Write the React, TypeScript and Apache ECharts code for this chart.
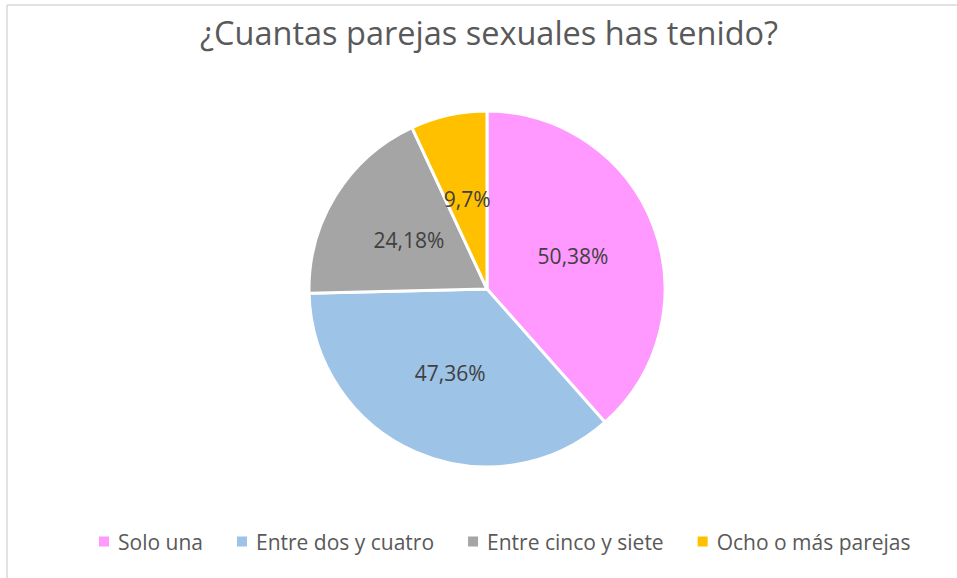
import React, { useEffect, useRef } from "react";
import * as echarts from "echarts";

const categories = ["Solo una", "Entre dos y cuatro", "Entre cinco y siete", "Ocho o más parejas"];
const counts = [50, 47, 24, 9];
const colors = ["#FF99FF", "#9DC3E6", "#A5A5A5", "#FFC000"];
const titleText = "¿Cuantas parejas sexuales has tenido?";

export default function App() {
  const ref = useRef<HTMLDivElement>(null);
  useEffect(() => {
    if (!ref.current) return;
    const chart = echarts.init(ref.current, undefined, { renderer: "svg" });
    const font = "'Open Sans', 'Noto Sans', sans-serif";
    chart.setOption({
      animation: false,
      backgroundColor: "#ffffff",
      color: colors,
      title: {
        text: titleText,
        left: 195,
        top: 11,
        textStyle: { color: "#595959", fontSize: 32.5, fontWeight: "normal", fontFamily: font },
      },
      legend: {
        bottom: 21,
        left: 92,
        itemWidth: 12,
        itemHeight: 12,
        itemGap: 32,
        icon: "rect",
        textStyle: { color: "#595959", fontSize: 21, fontFamily: font, padding: [0, 0, 0, 3] },
        data: categories,
      },
      graphic: [
        { type: "line", shape: { x1: 7, y1: 5, x2: 957, y2: 5 }, style: { stroke: "#D9D9D9", lineWidth: 1.5 } },
        { type: "line", shape: { x1: 7, y1: 5, x2: 7, y2: 578 }, style: { stroke: "#D9D9D9", lineWidth: 1.5 } },
      ],
      series: [
        {
          type: "pie",
          center: [487, 289],
          radius: [0, 178],
          startAngle: 90,
          clockwise: true,
          data: categories.map((name, i) => ({ name, value: counts[i] })),
          itemStyle: { borderColor: "#ffffff", borderWidth: 3 },
          label: {
            show: true,
            position: "inside",
            color: "#404040",
            fontSize: 21,
            fontFamily: font,
            formatter: (p: any) => `${p.value},${Math.round(p.percent)}%`,
          },
          labelLine: { show: false },
          emphasis: { disabled: true },
        },
      ],
    });
    return () => chart.dispose();
  }, []);
  return <div ref={ref} style={{ position: "fixed", left: 0, top: 0, width: 957, height: 578 }} />;
}
